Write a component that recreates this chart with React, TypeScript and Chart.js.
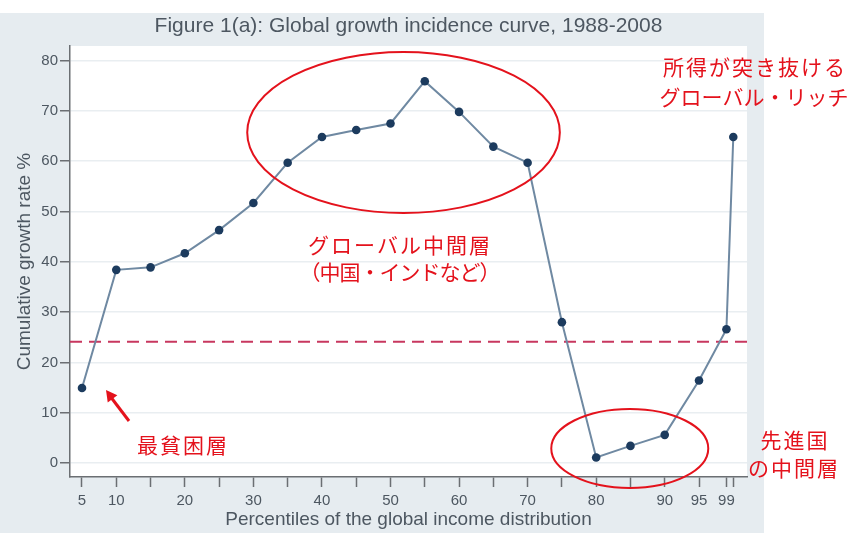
import React, { useEffect, useRef } from "react";
import { Chart, registerables } from "chart.js";

Chart.register(...registerables);

// ---- data ----
const percentiles = [5, 10, 15, 20, 25, 30, 35, 40, 45, 50, 55, 60, 65, 70, 75, 80, 85, 90, 95, 99, 100];
const growthRates = [14.9, 38.4, 38.9, 41.7, 46.3, 51.7, 59.7, 64.8, 66.2, 67.5, 75.9, 69.8, 62.9, 59.7, 28.0, 1.1, 3.4, 5.6, 16.4, 26.6, 64.8];
const meanGrowth = 24.1;
const yTickValues = [0, 10, 20, 30, 40, 50, 60, 70, 80];
const xTickValues = [5, 10, 15, 20, 25, 30, 35, 40, 45, 50, 55, 60, 65, 70, 75, 80, 85, 90, 95, 99, 100];
const xLabeledTicks = [5, 10, 20, 30, 40, 50, 60, 70, 80, 90, 95, 99];

const titleText = "Figure 1(a): Global growth incidence curve, 1988-2008";
const yTitle = "Cumulative growth rate %";
const xTitle = "Percentiles of the global income distribution";

const X_MIN = 3.25;
const X_MAX = 102.0;
const Y_MIN = -2.78;
const Y_MAX = 82.9;

const SANS = "'Liberation Sans Narrow', 'Liberation Sans', Arial, sans-serif";
const JP = "'Noto Sans CJK JP', 'Noto Sans', sans-serif";
const RED = "#e4121c";

const decorPlugin = {
  id: "decor",
  beforeDraw(chart: any) {
    const { ctx, chartArea } = chart;
    ctx.save();
    ctx.fillStyle = "#ffffff";
    ctx.fillRect(0, 0, chart.width, chart.height);
    ctx.fillStyle = "#e6ecf0";
    ctx.fillRect(0, 13, 764, 520);
    ctx.fillStyle = "#ffffff";
    ctx.fillRect(chartArea.left, chartArea.top, chartArea.right - chartArea.left, chartArea.bottom - chartArea.top);
    ctx.restore();
  },
  afterDraw(chart: any) {
    const { ctx } = chart;
    const xs = chart.scales.x;
    const ys = chart.scales.y;
    ctx.save();
    // ellipses (data coordinates)
    const ellipse = (cx: number, cy: number, rx: number, ry: number) => {
      const px = xs.getPixelForValue(cx);
      const py = ys.getPixelForValue(cy);
      const prx = Math.abs(xs.getPixelForValue(cx + rx) - px);
      const pry = Math.abs(ys.getPixelForValue(cy + ry) - py);
      ctx.beginPath();
      ctx.ellipse(px, py, prx, pry, 0, 0, Math.PI * 2);
      ctx.strokeStyle = RED;
      ctx.lineWidth = 2;
      ctx.stroke();
    };
    ellipse(51.9, 65.7, 22.8, 16.0);
    ellipse(84.9, 2.9, 11.45, 7.85);

    // arrow
    const ax0 = 129, ay0 = 421, ax1 = 106, ay1 = 390;
    ctx.strokeStyle = RED;
    ctx.fillStyle = RED;
    ctx.lineWidth = 3;
    ctx.beginPath();
    ctx.moveTo(ax0, ay0);
    ctx.lineTo(ax1 + 4, ay1 + 6);
    ctx.stroke();
    const ang = Math.atan2(ay1 - ay0, ax1 - ax0);
    const hl = 11, hw = 6;
    ctx.beginPath();
    ctx.moveTo(ax1, ay1);
    ctx.lineTo(ax1 - hl * Math.cos(ang) + hw * Math.sin(ang), ay1 - hl * Math.sin(ang) - hw * Math.cos(ang));
    ctx.lineTo(ax1 - hl * Math.cos(ang) - hw * Math.sin(ang), ay1 - hl * Math.sin(ang) + hw * Math.cos(ang));
    ctx.closePath();
    ctx.fill();

    // texts
    ctx.font = `21px ${JP}`;
    ctx.fillStyle = RED;
    ctx.textBaseline = "middle";
    ctx.textAlign = "center";
    const t = (s: string, x: number, y: number, spacing: number) => {
      (ctx as any).letterSpacing = `${spacing}px`;
      ctx.fillText(s, x + spacing / 2, y);
    };
    t("所得が突き抜ける", 754, 67, 2);
    t("グローバル・リッチ", 754, 97, 0);
    t("グローバル中間層", 399, 245, 2);
    t("（中国・インドなど）", 400, 272, -1);
    t("最貧困層", 182, 445, 2);
    t("先進国", 794, 440, 2);
    t("の中間層", 793, 468, 2);
    ctx.restore();
  },
};

export default function App() {
  const ref = useRef<HTMLCanvasElement | null>(null);
  useEffect(() => {
    if (!ref.current) return;
    const chart = new Chart(ref.current, {
      type: "line",
      data: {
        datasets: [
          {
            data: percentiles.map((p, i) => ({ x: p, y: growthRates[i] })),
            borderColor: "#6f89a2",
            borderWidth: 2,
            pointRadius: 4.3,
            pointBackgroundColor: "#1c3b5e",
            pointBorderColor: "#1c3b5e",
            pointBorderWidth: 0,
            tension: 0,
            order: 1,
          },
          {
            data: [
              { x: X_MIN, y: meanGrowth },
              { x: X_MAX, y: meanGrowth },
            ],
            borderColor: "#c8375f",
            borderWidth: 2,
            borderDash: [12, 7],
            pointRadius: 0,
            order: 2,
          },
        ],
      },
      options: {
        responsive: false,
        animation: false,
        layout: { padding: { left: 0, right: 114, top: 0, bottom: 0 } },
        plugins: {
          legend: { display: false },
          tooltip: { enabled: false },
          title: {
            display: true,
            text: titleText,
            fullSize: false,
            color: "#4d5761",
            font: { family: SANS, size: 21, weight: "normal", lineHeight: 1.2 },
            padding: { top: 14, bottom: 6.8 },
          },
        },
        scales: {
          x: {
            type: "linear",
            min: X_MIN,
            max: X_MAX,
            afterBuildTicks: (axis: any) => {
              axis.ticks = xTickValues.map((v) => ({ value: v }));
            },
            afterFit: (scale: any) => {
              scale.height = 56;
            },
            ticks: {
              autoSkip: false,
              maxRotation: 0,
              padding: 5,
              color: "#4d5761",
              font: { family: SANS, size: 15 },
              callback: (v: any) => (xLabeledTicks.includes(Number(v)) ? String(v) : ""),
            },
            grid: {
              drawOnChartArea: false,
              drawTicks: true,
              tickLength: 10,
              tickColor: "#6b6f73",
              tickWidth: 1.5,
            },
            border: { color: "#6b6f73", width: 1.5 },
            title: {
              display: true,
              text: xTitle,
              color: "#4d5761",
              font: { family: SANS, size: 19, lineHeight: 1.2 },
              padding: { top: 0, bottom: 2 },
            },
          },
          y: {
            type: "linear",
            min: Y_MIN,
            max: Y_MAX,
            afterBuildTicks: (axis: any) => {
              axis.ticks = yTickValues.map((v) => ({ value: v }));
            },
            afterFit: (scale: any) => {
              scale.width = 70;
            },
            ticks: {
              padding: 2,
              color: "#4d5761",
              font: { family: SANS, size: 15 },
            },
            grid: {
              color: "#e9eef1",
              lineWidth: 1.5,
              drawTicks: true,
              tickLength: 10,
              tickColor: "#6b6f73",
              tickWidth: 1.5,
            },
            border: { color: "#6b6f73", width: 1.5 },
            title: {
              display: true,
              text: yTitle,
              color: "#4d5761",
              font: { family: SANS, size: 19, lineHeight: 1.2 },
              padding: { top: 13, bottom: 0 },
            },
          },
        },
      },
      plugins: [decorPlugin],
    } as any);
    return () => chart.destroy();
  }, []);

  return (
    <div style={{ position: "fixed", left: 0, top: 0, width: 861, height: 533 }}>
      <canvas ref={ref} width={861} height={533} style={{ display: "block", width: 861, height: 533 }} />
    </div>
  );
}
